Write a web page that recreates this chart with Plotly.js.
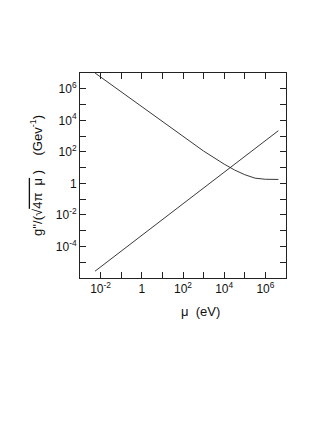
<!DOCTYPE html>
<html>
<head>
<meta charset="utf-8">
<script src="https://cdn.plot.ly/plotly-3.0.1.min.js"></script>
<style>
  html, body { margin: 0; padding: 0; background: #fff; }
  #plot { width: 327px; height: 423px; }
</style>
</head>
<body>
<div id="plot"></div>
<script>
// values (mu in eV, g in GeV^-1)
const muFalling = [0.00537, 0.1, 1, 10, 100, 1000, 10000, 31600, 100000, 316000, 1000000, 4270000];
const gFalling  = [1.0e7, 6.3e5, 7.4e4, 8.5e3, 9.5e2, 1.12e2, 16.6, 7.1, 3.55, 2.14, 1.82, 1.78];
const muRising = [0.00537, 4270000];
const gRising  = [2.7e-6, 2.2e3];

const yPowers = [-6, -5, -4, -3, -2, -1, 0, 1, 2, 3, 4, 5, 6];
const yLabelled = [-4, -2, 0, 2, 4, 6];
const xPowers = [-2, -1, 0, 1, 2, 3, 4, 5, 6];
const xLabelled = [-2, 0, 2, 4, 6];

function label(p, shown) {
  if (!shown.includes(p)) return '';
  return p === 0 ? '1' : '10<sup>' + p + '</sup>';
}

const lineStyle = {color: '#222', width: 0.9};
const font = {family: 'Liberation Sans, Arial, sans-serif', size: 12, color: '#111'};
const titleFont = {family: 'Liberation Sans, Arial, sans-serif', size: 13, color: '#111'};

const traces = [
  {x: muFalling, y: gFalling, type: 'scatter', mode: 'lines', line: lineStyle, hoverinfo: 'skip'},
  {x: muRising, y: gRising, type: 'scatter', mode: 'lines', line: lineStyle, hoverinfo: 'skip'}
];

const axisCommon = {
  type: 'log',
  showgrid: false,
  zeroline: false,
  showline: true,
  linecolor: '#222',
  linewidth: 1,
  mirror: 'ticks',
  ticks: 'inside',
  ticklen: 6,
  tickcolor: '#222',
  tickwidth: 1,
  tickmode: 'array',
  tickfont: font
};

const layout = {
  width: 327,
  height: 423,
  margin: {l: 80, r: 41, t: 73, b: 145},
  paper_bgcolor: '#fff',
  plot_bgcolor: '#fff',
  showlegend: false,
  xaxis: Object.assign({}, axisCommon, {
    range: [-3, 7],
    tickvals: xPowers.map(p => Math.pow(10, p)),
    ticktext: xPowers.map(p => label(p, xLabelled))
  }),
  yaxis: Object.assign({}, axisCommon, {
    range: [-6, 7],
    tickvals: yPowers.map(p => Math.pow(10, p)),
    ticktext: yPowers.map(p => label(p, yLabelled)),
    title: {
      text: "g''/(√<span style=\"text-decoration:overline\">4π  μ</span> )    (Gev<sup>-1</sup>)",
      font: titleFont,
      standoff: 10
    }
  }),
  annotations: [{
    text: 'μ  (eV)',
    xref: 'paper', yref: 'paper',
    x: 0.583, y: -0.165,
    xanchor: 'center', yanchor: 'middle',
    showarrow: false,
    font: titleFont
  }]
};

Plotly.newPlot('plot', traces, layout, {staticPlot: true, displayModeBar: false});
</script>
</body>
</html>
